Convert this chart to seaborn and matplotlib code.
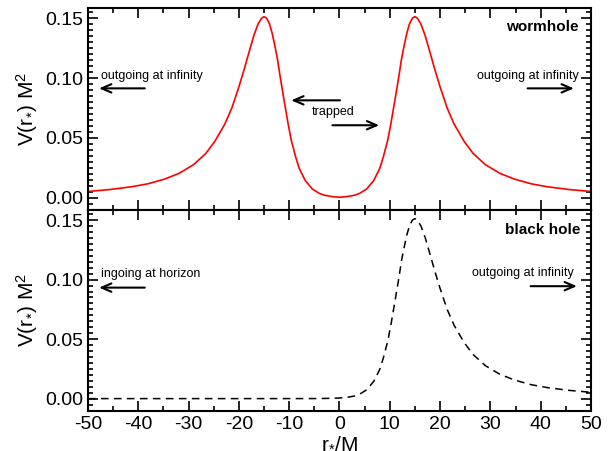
import numpy as np
import pandas as pd
import matplotlib
matplotlib.use('Agg')
import matplotlib.pyplot as plt
import seaborn as sns
from matplotlib.ticker import MultipleLocator, FormatStrFormatter

# potential (black hole branch), r_*/M vs V M^2
bh_r = [-50, -20, -10, -5, -2, 0, 1.6, 3, 4.0, 5.4, 6.8, 8.0, 8.7, 9.6, 10.2,
        11.1, 11.8, 12.3, 12.8, 13.4, 13.9, 14.5, 15.0, 15.5, 16.2, 17.0, 17.9,
        18.9, 20.0, 21.4, 22.8, 24.8, 26.6, 29.0, 31.9, 34.8, 38.1, 41.4, 45.7, 50.0]
bh_v = [0.0, 0.0, 0.00001, 0.00004, 0.0002, 0.0005, 0.0011, 0.0022, 0.0037,
        0.0074, 0.0144, 0.0245, 0.0339, 0.0484, 0.0615, 0.0836, 0.1013, 0.1152,
        0.1261, 0.1377, 0.1451, 0.1501, 0.1513, 0.1499, 0.1450, 0.1358, 0.1228,
        0.1079, 0.0926, 0.0750, 0.0615, 0.0470, 0.0369, 0.0277, 0.0204, 0.0156,
        0.0117, 0.0092, 0.0069, 0.0053]

# wormhole: symmetric copy of the r_* >= 0 branch
bh = pd.DataFrame({'r': bh_r, 'V': bh_v})
right = bh[bh['r'] >= 0]
left = pd.DataFrame({'r': -right['r'].values[::-1], 'V': right['V'].values[::-1]})
wh = pd.concat([left, right.iloc[1:]], ignore_index=True)

sns.set_style('ticks')
plt.rcParams['font.family'] = ['Liberation Sans', 'DejaVu Sans']
plt.rcParams['mathtext.fontset'] = 'custom'
plt.rcParams['mathtext.rm'] = 'Liberation Sans'
plt.rcParams['mathtext.it'] = 'Liberation Sans'
plt.rcParams['axes.unicode_minus'] = False
for k in ['text.color', 'axes.labelcolor', 'xtick.color', 'ytick.color', 'axes.edgecolor']:
    plt.rcParams[k] = 'black'

fig = plt.figure(figsize=(6.15, 4.51), dpi=100)
ax1 = fig.add_axes([0.143, 0.534, 0.818, 0.448])
ax2 = fig.add_axes([0.143, 0.089, 0.818, 0.445], sharex=ax1)

sns.lineplot(data=wh, x='r', y='V', ax=ax1, color='red', lw=1.2, estimator=None)
sns.lineplot(data=bh, x='r', y='V', ax=ax2, color='black', lw=1.1, estimator=None,
             linestyle=(0, (5, 3.5)))

ylab = r'V(r$_{\mathregular{*}}$) M$^2$'
for ax in (ax1, ax2):
    ax.set_xlim(-50, 50)
    ax.set_ylim(-0.0103, 0.1584)
    ax.xaxis.set_major_locator(MultipleLocator(10))
    ax.xaxis.set_minor_locator(MultipleLocator(5))
    ax.yaxis.set_major_locator(MultipleLocator(0.05))
    ax.yaxis.set_minor_locator(MultipleLocator(0.005))
    ax.tick_params(which='both', direction='in', top=True, right=True, width=1.2,
                   labelsize=14)
    ax.tick_params(which='major', length=7)
    ax.tick_params(which='minor', length=3.5)
    for s in ax.spines.values():
        s.set_linewidth(1.5)
        s.set_color('black')
    ax.set_ylabel(ylab, fontsize=15, labelpad=4)
    ax.yaxis.set_major_formatter(FormatStrFormatter('%.2f'))

ax1.tick_params(labelbottom=False)
ax1.set_xlabel('')
ax2.set_xlabel(r'r$_{\mathregular{*}}$/M', fontsize=15, labelpad=0)

arrow = dict(arrowstyle='->,head_length=0.7,head_width=0.3', lw=1.5, color='black',
             shrinkA=0, shrinkB=0)

# top panel annotations
ax1.text(47.6, 0.143, 'wormhole', fontsize=11, fontweight='bold', ha='right', va='center')
ax1.text(-47.4, 0.1015, 'outgoing at infinity', fontsize=9, ha='left', va='center')
ax1.annotate('', xy=(-47.8, 0.0914), xytext=(-38.7, 0.0914), arrowprops=arrow)
ax1.text(47.5, 0.1015, 'outgoing at infinity', fontsize=9, ha='right', va='center')
ax1.annotate('', xy=(46.6, 0.0914), xytext=(37.4, 0.0914), arrowprops=arrow)
ax1.annotate('', xy=(-9.6, 0.0814), xytext=(0.1, 0.0814), arrowprops=arrow)
ax1.text(-5.6, 0.0715, 'trapped', fontsize=9, ha='left', va='center')
ax1.annotate('', xy=(7.9, 0.0606), xytext=(-1.4, 0.0606), arrowprops=arrow)

# bottom panel annotations
ax2.text(47.8, 0.142, 'black hole', fontsize=11, fontweight='bold', ha='right', va='center')
ax2.text(-47.4, 0.105, 'ingoing at horizon', fontsize=9, ha='left', va='center')
ax2.annotate('', xy=(-47.8, 0.0933), xytext=(-38.7, 0.0933), arrowprops=arrow)
ax2.text(46.5, 0.106, 'outgoing at infinity', fontsize=9, ha='right', va='center')
ax2.annotate('', xy=(47.2, 0.0945), xytext=(38.0, 0.0945), arrowprops=arrow)

fig.savefig('out.png', dpi=100)
